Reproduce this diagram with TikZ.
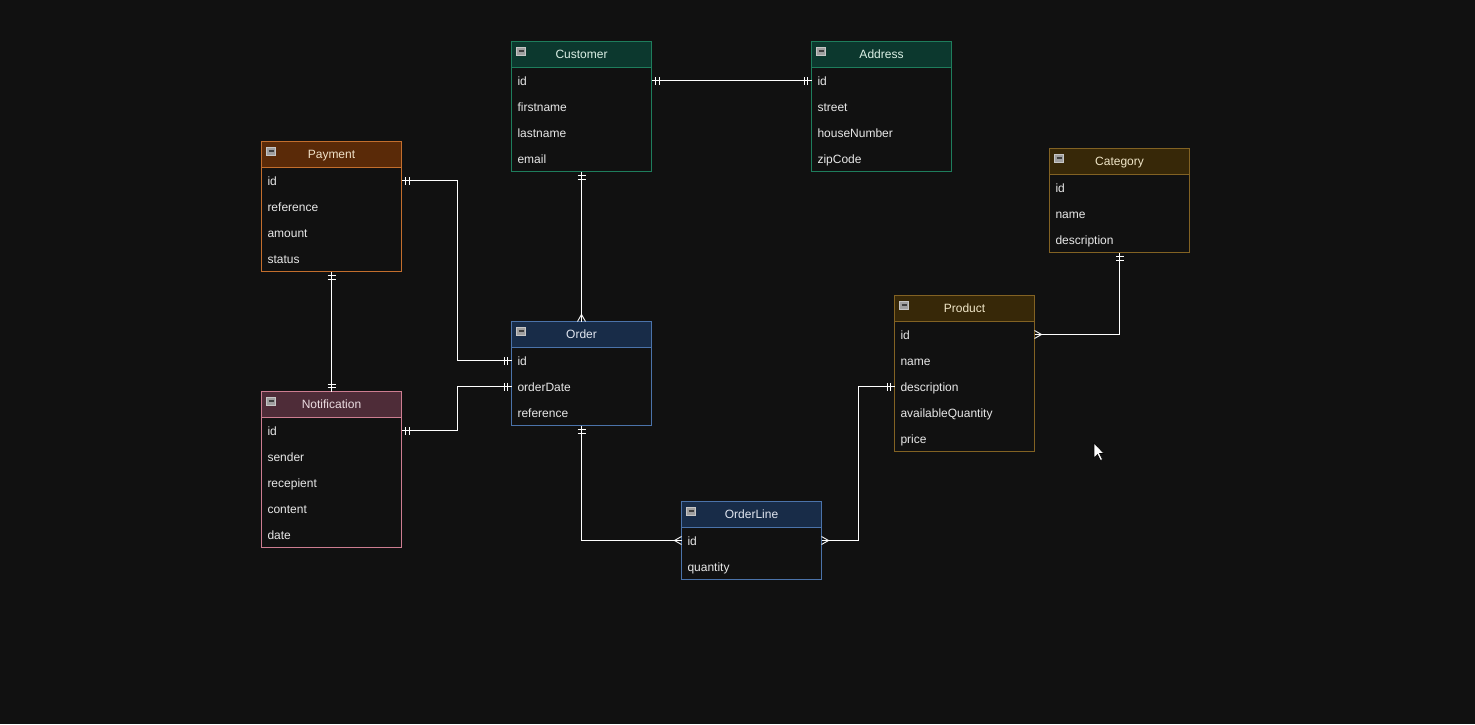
\documentclass[tikz,border=0pt]{standalone}
\usepackage{fontspec}
\setmainfont{Liberation Sans}
\usetikzlibrary{calc,decorations.markings}
\definecolor{bgc}{RGB}{17,17,17}
\definecolor{txt}{RGB}{232,232,232}
\definecolor{TealHead}{RGB}{12,56,46}\definecolor{TealLine}{RGB}{30,125,92}\definecolor{TealText}{RGB}{220,240,230}
\definecolor{PayHead}{RGB}{90,42,8}\definecolor{PayLine}{RGB}{195,110,45}\definecolor{PayText}{RGB}{240,225,200}
\definecolor{NotHead}{RGB}{78,44,56}\definecolor{NotLine}{RGB}{205,125,145}\definecolor{NotText}{RGB}{235,220,225}
\definecolor{BlueHead}{RGB}{24,44,72}\definecolor{BlueLine}{RGB}{75,115,170}\definecolor{BlueText}{RGB}{225,230,240}
\definecolor{GoldHead}{RGB}{55,40,8}\definecolor{GoldLine}{RGB}{130,98,35}\definecolor{GoldText}{RGB}{240,230,200}
\tikzset{
  boxframe/.style={fill=bgc, minimum width=140pt, anchor=north west, inner sep=0pt, outer sep=0pt},
  hdr/.style={fill=#1Head, text=#1Text, minimum width=140pt, minimum height=26pt, outer sep=0pt,
    anchor=north west, inner sep=0pt, text height=10pt, text depth=2pt},
  rowbox/.style={text=txt, anchor=north west, inner xsep=6pt, inner ysep=0pt, text width=128pt, align=left,
    minimum height=26pt, text height=11pt, text depth=1pt, outer sep=0pt},
  minus/.style={fill=gray!75, draw=gray!45, line width=0.6pt, minimum width=9pt, minimum height=8pt, inner sep=0pt,
    path picture={\draw[black!75,line width=1.2pt] ([xshift=2pt]path picture bounding box.west) -- ([xshift=-2pt]path picture bounding box.east);}},
  rel/.style={draw=white, line width=0.9pt},
  tick/.style={draw=white, line width=0.9pt},
  onestart/.style={postaction={decorate, decoration={markings,
      mark=at position 4pt with {\draw[tick] (0pt,-4pt) -- (0pt,4pt);},
      mark=at position 7.5pt with {\draw[tick] (0pt,-4pt) -- (0pt,4pt);}}}},
  oneend/.style={postaction={decorate, decoration={markings,
      mark=at position -4pt with {\draw[tick] (0pt,-4pt) -- (0pt,4pt);},
      mark=at position -7.5pt with {\draw[tick] (0pt,-4pt) -- (0pt,4pt);}}}},
  manystart/.style={postaction={decorate, decoration={markings,
      mark=at position 7pt with {\draw[tick] (-7pt,4pt) -- (0pt,0pt) -- (-7pt,-4pt);}}}},
  manyend/.style={postaction={decorate, decoration={markings,
      mark=at position -7pt with {\draw[tick] (7pt,4pt) -- (0pt,0pt) -- (7pt,-4pt);}}}},
}
% #1 name, #2 x, #3 y, #4 title, #5 scheme, #6 rows, #7 total height
\newcommand{\erent}[7]{%
  \node[boxframe, minimum height=#7pt] (#1-box) at (#2,#3) {};
  \node[hdr=#5] (#1) at (#2,#3) {#4};
  \node[minus] (#1-m) at ($(#2,#3)+(9.5,9.5)$) {};
  \foreach \r [count=\i] in {#6} {\node[rowbox] (#1-\i) at ($(#2,#3)+(0,{26*\i})$) {\r};}
  \draw[draw=#5Line, line width=1.1pt] (#1-box.north west) rectangle (#1-box.south east);
  \draw[draw=#5Line, line width=1.1pt] (#1.south west) -- (#1.south east);
}
\begin{document}
\begin{tikzpicture}[x=1pt,y=-1pt,font=\fontsize{12}{14}\selectfont]
\fill[bgc] (0,0) rectangle (1475,724);
\useasboundingbox (0,0) rectangle (1475,724);

\erent{cust}{511.5}{41.5}{Customer}{Teal}{id,firstname,lastname,email}{130}
\erent{addr}{811.5}{41.5}{Address}{Teal}{id,street,houseNumber,zipCode}{130}
\erent{pay}{261.5}{141.5}{Payment}{Pay}{id,reference,amount,status}{130}
\erent{not}{261.5}{391.5}{Notification}{Not}{id,sender,recepient,content,date}{156}
\erent{ord}{511.5}{321.5}{Order}{Blue}{id,orderDate,reference}{104}
\erent{cat}{1049.5}{148.5}{Category}{Gold}{id,name,description}{104}
\erent{prod}{894.5}{295.5}{Product}{Gold}{id,name,description,availableQuantity,price}{156}
\erent{ol}{681.5}{501.5}{OrderLine}{Blue}{id,quantity}{78}

\draw[rel, onestart, oneend] (cust-1.east) -- (addr-1.west);
\draw[rel, onestart, manyend] (cust-box.south) -- (ord.north);
\draw[rel, onestart, oneend] (pay-1.east) -| ($(ord-1.west)+(-54,0)$) -- (ord-1.west);
\draw[rel, onestart, oneend] (not-1.east) -| ($(ord-2.west)+(-54,0)$) -- (ord-2.west);
\draw[rel, onestart, oneend] (pay-box.south) -- (not.north);
\draw[rel, onestart, manyend] (ord-box.south) |- (ol-1.west);
\draw[rel, manystart, oneend] (ol-1.east) -| ($(prod-3.west)+(-36,0)$) -- (prod-3.west);
\draw[rel, manystart, oneend] (prod-1.east) -| (cat-box.south);

% mouse cursor
\filldraw[fill=white, draw=black, line width=0.6pt] (1094,443) -- (1094,458) -- (1097.5,454.5) -- (1100.5,460.5) -- (1102.5,459.5) -- (1099.5,453.5) -- (1104,453.5) -- cycle;
\end{tikzpicture}
\end{document}
